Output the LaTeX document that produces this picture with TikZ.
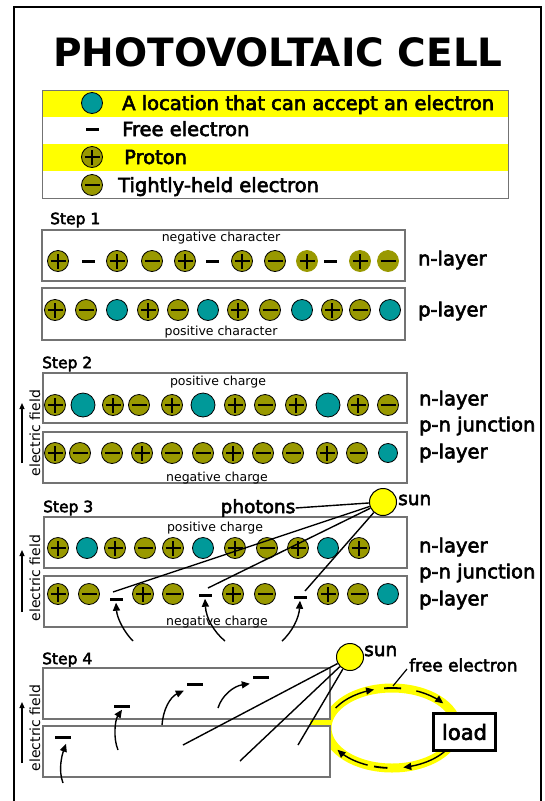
\documentclass[tikz,border=0pt]{standalone}
\usepackage{fontspec}
\setmainfont{DejaVu Sans}
\newfontfamily\mfam{DejaVu Sans}[BoldFont={DejaVu Sans}, BoldFeatures={FakeBold=3}]
\newcommand{\mf}{\mfam\bfseries}
\usetikzlibrary{arrows.meta}
\definecolor{olv}{RGB}{153,153,0}
\definecolor{tl}{RGB}{0,153,153}
\definecolor{yl}{RGB}{255,255,0}
\tikzset{
  atom/.style={circle, draw=black, line width=0.8pt, fill=olv, minimum size=21pt, inner sep=0pt},
  pro/.style={atom, path picture={\draw[black, line width=2.4pt] ([xshift=-7.5pt]path picture bounding box.center) -- ([xshift=7.5pt]path picture bounding box.center) ([yshift=-7.5pt]path picture bounding box.center) -- ([yshift=7.5pt]path picture bounding box.center);}},
  tig/.style={atom, path picture={\draw[black, line width=2.4pt] ([xshift=-7.5pt]path picture bounding box.center) -- ([xshift=7.5pt]path picture bounding box.center);}},
  proL/.style={pro, draw=olv},
  tigL/.style={tig, draw=olv},
  acc/.style={circle, draw=black, line width=0.8pt, fill=tl, minimum size=21pt, inner sep=0pt},
  accB/.style={acc, minimum size=24pt},
  accS/.style={acc, minimum size=19pt},
  fre/.style={fill=black, minimum width=13pt, minimum height=3pt, inner sep=0pt},
  layer/.style={draw=black!55, line width=1.3pt, fill=white},
  legt/.style={font=\mf\fontsize{19.5}{20}\selectfont, anchor=base west, inner sep=0pt},
  lbl/.style={font=\mf\fontsize{19.5}{20}\selectfont, anchor=west, inner sep=0pt},
  small/.style={font=\fontsize{12.5}{13}\selectfont, inner sep=0pt},
  stp/.style={font=\mf\fontsize{15.5}{16}\selectfont, anchor=west, inner sep=0pt},
  efield/.style={font=\fontsize{14}{14}\selectfont, rotate=90, inner sep=0pt},
  arr/.style={-{Triangle[length=8pt,width=7pt]}, line width=1.4pt},
  efarr/.style={-{Triangle[length=6pt,width=5pt]}, line width=1.2pt},
  ray/.style={line width=1.4pt},
  sunc/.style={circle, draw=black, line width=1pt, fill=yl, minimum size=27pt, inner sep=0pt}
}
\begin{document}
\begin{tikzpicture}[x=1pt,y=-1pt]
\useasboundingbox (0,0) rectangle (545,801);
\fill[white] (0,0) rectangle (545,801);
% frame
\draw[line width=1.3pt] (14,810) -- (14,7) -- (541,7) -- (541,810);
% title
\node[font=\bfseries\fontsize{39}{39}\selectfont, inner sep=0pt] (title) at (278,52) {PHOTOVOLTAIC CELL};
% legend
\fill[yl] (42,90) rectangle (508,117);
\fill[yl] (42,144) rectangle (508,171);
\draw[black!55, line width=1pt] (42,90) rectangle (508,198);
\node[acc] (k1) at (92,103) {};
\node[fre] (k2) at (92,129) {};
\node[pro] (k3) at (92,157) {};
\node[tig] (k4) at (92,185) {};
\node[legt] (t1) at (122,110) {A location that can accept an electron};
\node[legt] (t2) at (122,136) {Free electron};
\node[legt] (t3) at (124,164) {Proton};
\node[legt] (t4) at (118,192) {Tightly-held electron};

% ---------- Step 1
\node[stp] (s1) at (50,220) {Step 1};
\draw[layer] (42,230) rectangle (405,281);
\draw[layer] (42,288) rectangle (405,340);
\node[small] (nc) at (221,238) {negative character};
\node[small] (pc) at (221,332) {positive character};
\foreach \x/\s [count=\i] in {58/pro,88/fre,117/pro,152/tig,185/pro,212/fre,242/pro,275/tig,307/proL,330/fre,360/proL,388/tigL}
  \node[\s] (a\i) at (\x,261) {};
\foreach \x/\s [count=\i] in {55/pro,86/tig,117/acc,148/pro,178/tig,208/acc,238/pro,270/tig,302/acc,332/pro,360/tig,390/acc}
  \node[\s] (b\i) at (\x,310) {};
\node[lbl] (l1n) at (418,260) {n-layer};
\node[lbl] (l1p) at (418,311) {p-layer};

% ---------- Step 2
\node[stp] (s2) at (42,364) {Step 2};
\draw[layer] (43,373) rectangle (407,423);
\draw[layer] (43,432) rectangle (407,483);
\node[small] (pc2) at (218,382) {positive charge};
\node[small] (nc2) at (217,478) {negative charge};
\foreach \x/\s [count=\i] in {55/pro,83/accB,113/pro,139/tig,172/pro,203/accB,235/pro,265/tig,296/pro,328/accB,358/pro,388/tig}
  \node[\s] (c\i) at (\x,405) {};
\foreach \x/\s [count=\i] in {55/pro,80/tig,112/tig,142/pro,172/tig,203/tig,233/pro,263/tig,293/tig,327/pro,357/tig,388/accS}
  \node[\s] (d\i) at (\x,453) {};
\node[lbl] (l2n) at (419,400) {n-layer};
\node[lbl] (l2j) at (419,426) {p-n junction};
\node[lbl] (l2p) at (419,453) {p-layer};
\coordinate (e2a) at (22,463);
\coordinate (e2b) at (22,403);
\draw[efarr] (e2a) -- (e2b);
\node[efield] (ef2) at (35,433) {electric field};

% ---------- Step 3
\node[stp] (s3) at (43,508) {Step 3};
\draw[layer] (44,517) rectangle (407,568);
\draw[layer] (44,576) rectangle (407,627);
\node[small] (pc3) at (215,528) {positive charge};
\foreach \x/\s [count=\i] in {58/pro,87/acc,115/pro,145/tig,173/pro,203/acc,235/pro,267/tig,298/pro,328/acc,359/pro}
  \node[\s] (g\i) at (\x,548) {};
\foreach \x/\s [count=\i] in {58/pro,89/tig,143/pro,173/tig,233/pro,265/tig,328/pro,358/tig,388/acc}
  \node[\s] (h\i) at (\x,594) {};
\node[fre] (f1) at (116,599) {};
\node[fre] (f2) at (205,595) {};
\node[fre] (f3) at (300,597) {};
\node[lbl] (l3n) at (419,547) {n-layer};
\node[lbl] (l3j) at (419,573) {p-n junction};
\node[lbl] (l3p) at (419,600) {p-layer};
\coordinate (e3a) at (22,612);
\coordinate (e3b) at (22,550);
\draw[efarr] (e3a) -- (e3b);
\node[efield] (ef3) at (35,578) {electric field};
% sun and photons
\node[sunc] (sun3) at (383,502) {};
\node[lbl, font=\mf\fontsize{18.5}{19}\selectfont] (sunl3) at (398,500) {sun};
\node[font=\mf\fontsize{18.5}{19}\selectfont, inner sep=0pt] (ph) at (258,508) {photons};
\coordinate (r31) at (113,592);
\coordinate (r32) at (208,588);
\coordinate (r33) at (305,591);
\draw[ray] (ph.east) -- (sun3);
\draw[ray] (sun3) -- (r31);
\draw[ray] (sun3) -- (r32);
\draw[ray] (sun3) -- (r33);
\node[small] (nc3) at (217,622) {negative charge};
\coordinate (u1) at (133,641);
\coordinate (u2) at (225,641);
\coordinate (u3) at (282,641);
\draw[arr] (u1) .. controls (124,632) and (117,618) .. ([yshift=-2pt]f1.south);
\draw[arr] (u2) .. controls (214,632) and (206,618) .. ([yshift=-2pt]f2.south);
\draw[arr] (u3) .. controls (292,632) and (299,618) .. ([yshift=-2pt]f3.south);

% ---------- Step 4
\node[stp] (s4) at (42,660) {Step 4};
\draw[yl, line width=9pt] (392,728) ellipse [x radius=65pt, y radius=40pt];
\draw[layer] (43,668) rectangle (330,719);
\draw[layer] (43,726) rectangle (330,777);
\fill[yl] (310,720.3) rectangle (331,725.2);
\coordinate (e4a) at (22,763);
\coordinate (e4b) at (22,702);
\draw[efarr] (e4a) -- (e4b);
\node[efield] (ef4) at (35,728) {electric field};
\node[fre, minimum width=16pt] (m1) at (63,737) {};
\node[fre, minimum width=16pt] (m2) at (122,706) {};
\node[fre, minimum width=16pt] (m3) at (195,684) {};
\node[fre, minimum width=16pt] (m4) at (261,677) {};
\coordinate (v1) at (63,783);
\coordinate (v2) at (118,750);
\coordinate (v3) at (162,725);
\coordinate (v4) at (218,708);
\draw[arr] (v1) .. controls (58,770) and (62,755) .. ([xshift=3pt,yshift=-5pt]m1.south);
\draw[arr] (v2) .. controls (113,738) and (115,720) .. ([yshift=-2pt]m2.south);
\draw[arr] (v3) .. controls (163,710) and (170,697) .. ([xshift=-3pt,yshift=-5pt]m3.south west);
\draw[arr] (v4) .. controls (222,695) and (234,686) .. ([xshift=-3pt,yshift=-5pt]m4.south west);
\node[sunc] (sun4) at (350,657) {};
\node[lbl, font=\mf\fontsize{18.5}{19}\selectfont] (sunl4) at (364,651) {sun};
\coordinate (r41) at (183,745);
\coordinate (r42) at (240,761);
\coordinate (r43) at (298,745);
\draw[ray] (sun4) -- (r41);
\draw[ray] (sun4) -- (r42);
\draw[ray] (sun4) -- (r43);
% current arrows along the loop
\draw[arr] plot[domain=150:106, samples=20] ({392+65*cos(\x)}, {728-40*sin(\x)});
\draw[line width=1.8pt] plot[domain=97:82, samples=8] ({392+65*cos(\x)}, {728-40*sin(\x)});
\draw[arr] plot[domain=68:38, samples=15] ({392+65*cos(\x)}, {728-40*sin(\x)});
\draw[arr] plot[domain=-28:-80, samples=20] ({392+65*cos(\x)}, {728-40*sin(\x)});
\draw[line width=1.8pt] plot[domain=-94:-106, samples=8] ({392+65*cos(\x)}, {728-40*sin(\x)});
\draw[arr] plot[domain=-112:-147, samples=15] ({392+65*cos(\x)}, {728-40*sin(\x)});
\node[draw, line width=2.5pt, fill=white, minimum width=62pt, minimum height=37pt, inner sep=0pt, font=\mf\fontsize{21}{21}\selectfont] (load) at (464.5,732) {load};
\node[lbl, font=\mf\fontsize{17}{17}\selectfont] (fe) at (409,665) {free electron};
\coordinate (fe1) at (407,669);
\coordinate (fe2) at (393,686);
\draw[line width=1.2pt] (fe1) -- (fe2);
\end{tikzpicture}
\end{document}
